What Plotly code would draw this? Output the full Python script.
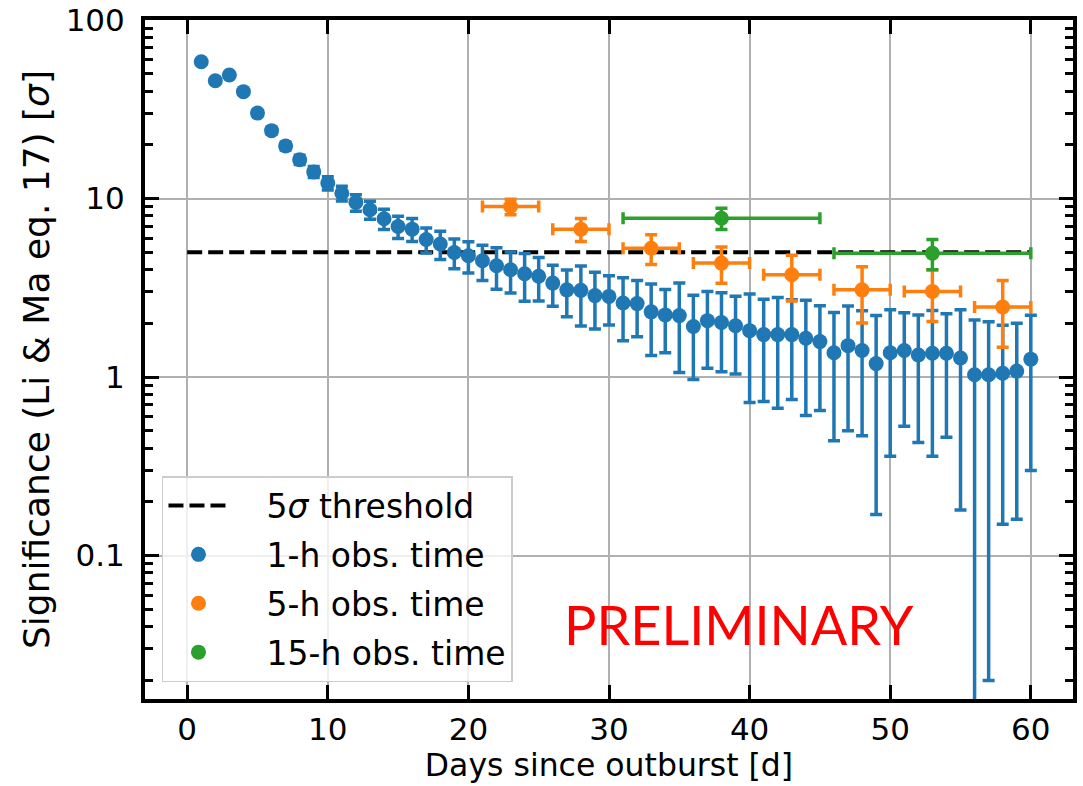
import plotly.graph_objects as go

# ---------------- data ----------------
days_1h = list(range(1, 61))
sig_1h = [58.4, 45.7, 49.2, 39.7, 30.1, 24.0, 19.7, 16.5, 14.1, 12.2,
          10.7, 9.5, 8.65, 7.7, 6.97, 6.74, 5.9, 5.56, 4.99, 4.78,
          4.48, 4.2, 3.99, 3.79, 3.67, 3.36, 3.08, 3.06, 2.86, 2.83,
          2.6, 2.58, 2.32, 2.23, 2.21, 1.92, 2.07, 2.02, 1.94, 1.82,
          1.73, 1.73, 1.73, 1.65, 1.58, 1.37, 1.50, 1.41, 1.19, 1.37,
          1.41, 1.33, 1.36, 1.36, 1.28, 1.03, 1.03, 1.05, 1.08, 1.26]
err_1h = [1.0, 1.0, 1.0, 1.0, 1.0, 1.0, 1.0, 1.0, 1.0, 1.05,
          1.0, 1.0, 1.0, 1.0, 1.0, 1.0, 0.95, 1.0, 0.95, 0.95,
          1.0, 1.1, 1.03, 1.13, 1.0, 0.87, 0.9, 1.13, 1.0, 0.87,
          1.0, 0.9, 1.0, 0.86, 1.15, 0.95, 0.95, 0.95, 0.9, 1.1,
          1.0, 1.06, 0.98, 1.04, 0.93, 0.93, 1.0, 0.94, 1.02, 1.01,
          0.88, 0.9, 1.0, 0.9, 1.1, 1.06, 1.01, 0.9, 0.92, 0.96]

days_5h = [23, 28, 33, 38, 43, 48, 53, 58]
sig_5h = [9.02, 6.74, 5.27, 4.35, 3.74, 3.08, 3.02, 2.47]
err_5h = [0.9, 1.0, 1.0, 1.0, 1.07, 1.07, 0.97, 1.0]
xerr_5h = [2, 2, 2, 2, 2, 2, 2, 2]

days_15h = [38, 53]
sig_15h = [7.76, 4.94]
err_15h = [1.05, 0.95]
xerr_15h = [7, 7]

thr_x = [0, 60]
thr_y = [5, 5]

y_tickvals = [0.1, 1, 10, 100]
y_ticktext = ["0.1", "1", "10", "100"]
x_tickvals = [0, 10, 20, 30, 40, 50, 60]

BLUE = "#1f77b4"
ORANGE = "#ff7f0e"
GREEN = "#2ca02c"
FONT = "DejaVu Sans"
PAD = "\u2002\u2002"  # spacing between legend symbol and label

fig = go.Figure()

fig.add_trace(go.Scatter(
    x=thr_x, y=thr_y, mode="lines", name=PAD + "5<i>σ</i> threshold",
    line=dict(color="black", width=4, dash="15px,6px"),
    legendgroup="a"))

fig.add_trace(go.Scatter(
    x=days_1h, y=sig_1h, mode="markers", name=PAD + "1-h obs. time",
    marker=dict(color=BLUE, size=15),
    error_y=dict(type="data", array=err_1h, visible=True, color=BLUE,
                 thickness=3.5, width=6),
    legendgroup="b"))

fig.add_trace(go.Scatter(
    x=days_5h, y=sig_5h, mode="markers", name=PAD + "5-h obs. time",
    marker=dict(color=ORANGE, size=15),
    error_y=dict(type="data", array=err_5h, visible=True, color=ORANGE,
                 thickness=3.5, width=6),
    error_x=dict(type="data", array=xerr_5h, visible=True, color=ORANGE,
                 thickness=3.5, width=6),
    legendgroup="c"))

fig.add_trace(go.Scatter(
    x=days_15h, y=sig_15h, mode="markers", name=PAD + "15-h obs. time",
    marker=dict(color=GREEN, size=15),
    error_y=dict(type="data", array=err_15h, visible=True, color=GREEN,
                 thickness=3.5, width=6),
    error_x=dict(type="data", array=xerr_15h, visible=True, color=GREEN,
                 thickness=3.5, width=6),
    legendgroup="d"))

fig.add_annotation(
    text="PRELIMINARY", x=0.640, y=0.110, xref="paper", yref="paper",
    xanchor="center", yanchor="middle", showarrow=False,
    font=dict(family="Lato", size=54, color="#ff0000"))

fig.update_layout(
    width=1083, height=786,
    margin=dict(l=145, r=10, t=20, b=87, autoexpand=False),
    paper_bgcolor="white", plot_bgcolor="white",
    font=dict(family=FONT, size=31, color="black"),
    showlegend=True,
    legend=dict(
        x=0.0183, y=0.3284, xanchor="left", yanchor="top",
        bgcolor="rgba(255,255,255,0.8)", bordercolor="#cccccc",
        borderwidth=1.5, font=dict(family=FONT, size=33),
        tracegroupgap=3, itemwidth=60, traceorder="grouped"),
)

fig.update_xaxes(
    range=[-3, 63], tickmode="array", tickvals=x_tickvals,
    ticks="inside", ticklen=14, tickwidth=3, tickcolor="black",
    showline=True, linewidth=4, linecolor="black", mirror="allticks",
    showgrid=True, gridcolor="#b0b0b0", gridwidth=1.6, zeroline=False,
    automargin=False,
    tickfont=dict(family=FONT, size=31),
    title=dict(text="Days since outburst [d]", font=dict(family=FONT, size=31.5), standoff=0),
)

fig.update_yaxes(
    type="log", range=[-1.803, 2.0], tickmode="array",
    tickvals=y_tickvals, ticktext=y_ticktext,
    ticks="inside", ticklen=14, tickwidth=3, tickcolor="black",
    minor=dict(ticks="inside", ticklen=8, tickwidth=2.5, tickcolor="black",
               dtick="D1", showgrid=False),
    showline=True, linewidth=4, linecolor="black", mirror="allticks",
    showgrid=True, gridcolor="#b0b0b0", gridwidth=1.6, zeroline=False,
    automargin=False, ticklabelstandoff=10,
    tickfont=dict(family=FONT, size=31),
    title=dict(text="Significance (Li & Ma eq. 17) [<i>σ</i>]",
               font=dict(family=FONT, size=36), standoff=6),
)

fig.write_html("out.html")
